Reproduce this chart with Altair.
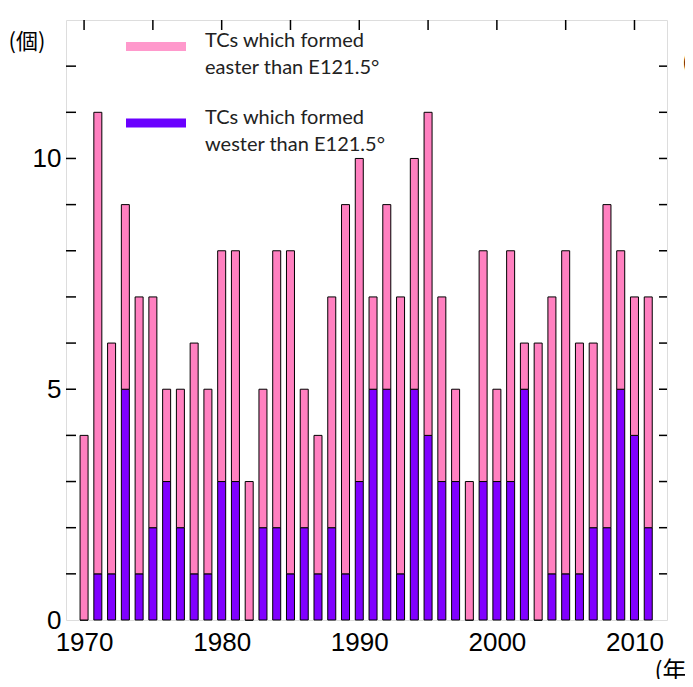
import altair as alt
import pandas as pd

years = list(range(1970, 2012))
east = [4, 10, 5, 4, 6, 5, 2, 3, 5, 4,
        5, 5, 3, 3, 6, 7, 3, 3, 5, 8,
        7, 2, 4, 6, 5, 7, 4, 2, 3, 5,
        2, 5, 1, 6, 6, 7, 5, 4, 7, 3, 3, 5]
west = [0, 1, 1, 5, 1, 2, 3, 2, 1, 1,
        3, 3, 0, 2, 2, 1, 2, 1, 2, 1,
        3, 5, 5, 1, 5, 4, 3, 3, 0, 3,
        3, 3, 5, 0, 1, 1, 1, 2, 2, 5, 4, 2]
series = ["east", "west"]
legend_lines = [["TCs which formed", "easter than E121.5°"],
                ["TCs which formed", "wester than E121.5°"]]
colors = ["#FF80C0", "#8000FF"]
swatch_colors = ["#FF99CC", "#6A00FF"]
x_labels = [1970, 1980, 1990, 2000, 2010]
x_minor = [1970, 1975, 1980, 1985, 1990, 1995, 2000, 2005, 2010]
y_labels = [0, 5, 10]
y_minor = list(range(1, 13))

rows = []
for yr, e, w in zip(years, east, west):
    rows.append({"year": yr, "series": series[1], "count": w, "ord": 0})
    rows.append({"year": yr, "series": series[0], "count": e, "ord": 1})
df = pd.DataFrame(rows)

W, H = 601, 600
xs = alt.Scale(domain=[1969.05, 2012], nice=False, zero=False)
ys = alt.Scale(domain=[0, 13], nice=False)

bars = alt.Chart(df).mark_bar(size=8, stroke="black", strokeWidth=1).encode(
    x=alt.X("year:Q", scale=xs,
            axis=alt.Axis(values=x_labels, format="d", ticks=False, domain=False, grid=False,
                          labelFontSize=26, labelFont="Liberation Sans", labelColor="black",
                          labelPadding=9, title="(年)", titleFont="Noto Sans CJK JP",
                          titleFontSize=24, titleFontWeight="normal", titleAnchor="start",
                          titleAlign="left", titleX=588, titleY=51, titleBaseline="middle")),
    y=alt.Y("count:Q", stack="zero", scale=ys,
            axis=alt.Axis(values=y_labels, ticks=False, domain=False, grid=False,
                          labelFontSize=26, labelFont="Liberation Sans", labelColor="black",
                          labelPadding=5, title="(個)", titleAngle=0, titleFont="Noto Sans CJK JP",
                          titleFontSize=22, titleFontWeight="normal", titleAlign="left",
                          titleX=-58, titleY=21, titleBaseline="middle")),
    color=alt.Color("series:N", scale=alt.Scale(domain=series, range=colors), legend=None),
    order=alt.Order("ord:Q"),
)

left_ticks = alt.Chart(pd.DataFrame({"v": y_minor})).mark_rule(color="black", strokeWidth=1.5).encode(
    y=alt.Y("v:Q", scale=ys), x=alt.value(0), x2=alt.value(10))
right_ticks = alt.Chart(pd.DataFrame({"v": y_minor})).mark_rule(color="black", strokeWidth=1.5).encode(
    y=alt.Y("v:Q", scale=ys), x=alt.value(W - 8), x2=alt.value(W))
top_ticks = alt.Chart(pd.DataFrame({"v": x_minor})).mark_rule(color="black", strokeWidth=1.5).encode(
    x=alt.X("v:Q", scale=xs), y=alt.value(0), y2=alt.value(10))
right_label = alt.Chart(pd.DataFrame({"t": ["(個)"]})).mark_text(
    align="left", baseline="middle", fontSize=24, font="Noto Sans CJK JP", color="black").encode(
    text="t:N", x=alt.value(W + 15), y=alt.value(43))

one = pd.DataFrame({"k": [0]})
legend_layers = []
for i, (lines, col) in enumerate(zip(legend_lines, swatch_colors)):
    y0 = 26.5 + i * 76.5
    legend_layers.append(alt.Chart(one).mark_rule(color=col, strokeWidth=9).encode(
        x=alt.value(60), x2=alt.value(120), y=alt.value(y0)))
    legend_layers.append(alt.Chart(one).mark_text(
        text=lines, align="left", baseline="alphabetic", lineHeight=27,
        font="Lato", fontSize=20, color="#222222").encode(
        x=alt.value(139), y=alt.value(y0 + 0.5)))

chart = alt.layer(left_ticks, right_ticks, top_ticks, bars, right_label, *legend_layers).properties(
    width=W, height=H,
    autosize=alt.AutoSizeParams(type="none"),
    padding={"left": 58, "top": 12, "right": 18, "bottom": 59},
).configure_view(stroke="black", strokeWidth=1.5).configure(background="white")

chart.save("out.html", embed_options={"renderer": "svg", "actions": False})
